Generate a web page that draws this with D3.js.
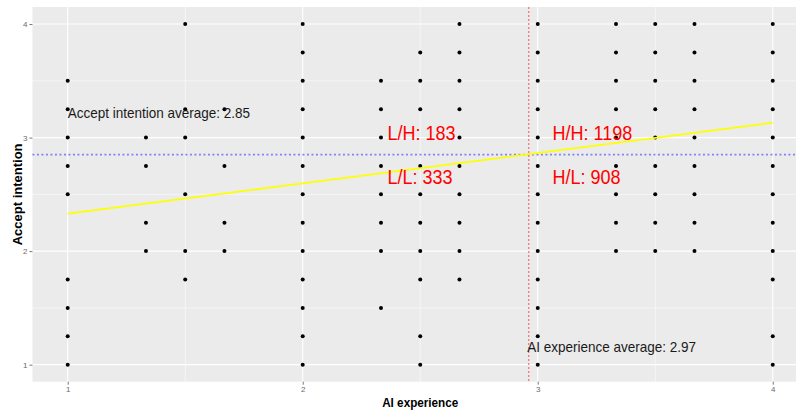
<!DOCTYPE html>
<html>
<head>
<meta charset="utf-8">
<script src="https://cdn.jsdelivr.net/npm/d3@7"></script>
<style>
  html, body { margin: 0; padding: 0; background: #fff; }
  svg { display: block; }
  text { font-family: "Liberation Sans", Arial, sans-serif; }
</style>
</head>
<body>
<svg id="chart" width="796" height="412"></svg>
<script>
// ---------- data ----------
const xLevels = [1, 1.333, 1.5, 1.667, 2, 2.333, 2.5, 2.667, 3, 3.333, 3.5, 3.667, 4];
const yByColumn = [
  [1, 1.25, 1.5, 1.75, 2.5, 2.75, 3, 3.25, 3.5],
  [2, 2.25, 2.75, 3],
  [1.75, 2, 2.5, 3, 3.25, 4],
  [2, 2.25, 2.75, 3.25],
  [1, 1.25, 1.5, 1.75, 2, 2.25, 2.5, 2.75, 3, 3.25, 3.5, 3.75, 4],
  [1.5, 2, 2.25, 2.5, 2.75, 3, 3.25, 3.5],
  [1, 1.25, 1.75, 2, 2.25, 2.5, 2.75, 3.25, 3.5, 3.75],
  [1.75, 2, 2.25, 2.5, 2.75, 3, 3.25, 3.5, 3.75, 4],
  [1, 1.25, 1.5, 1.75, 2, 2.25, 2.5, 2.75, 3, 3.25, 3.5, 3.75, 4],
  [2, 2.25, 2.5, 2.75, 3, 3.25, 3.5, 3.75, 4],
  [2, 2.25, 2.5, 2.75, 3, 3.25, 3.5, 3.75, 4],
  [2, 2.25, 2.5, 2.75, 3, 3.25, 3.5, 3.75, 4],
  [1, 1.25, 1.75, 2, 2.25, 2.5, 2.75, 3, 3.25, 3.5, 3.75, 4]
];
const fitX = [1, 4];
const fitY = [2.33, 3.131];
const xMean = 2.962;
const yMean = 2.85;
const xTicks = [1, 2, 3, 4];
const yTicks = [1, 2, 3, 4];
const minorTicks = [1.5, 2.5, 3.5];
const quadLabels = ["L/H: 183", "L/L: 333", "H/H: 1198", "H/L: 908"];
const quadX = [2.361, 2.361, 3.063, 3.063];
const quadY = [2.983, 2.59, 2.983, 2.59];
const meanLabels = ["Accept intention average: 2.85", "AI experience average: 2.97"];
const meanLabelX = [1, 2.955];
const meanLabelY = [3.175, 1.115];
const xTitle = "AI experience";
const yTitle = "Accept intention";

// ---------- layout ----------
const svg = d3.select("#chart");
const panel = { left: 32.45, right: 808, top: 7, bottom: 381.7 };
const x = d3.scaleLinear().domain([0.85, 4.15]).range([panel.left, panel.right]);
const y = d3.scaleLinear().domain([0.85, 4.15]).range([panel.bottom, panel.top]);
const squeeze = 0.9;

function squeezeText(sel) {
  sel.each(function () {
    const len = this.getComputedTextLength();
    d3.select(this).attr("textLength", len * squeeze).attr("lengthAdjust", "spacingAndGlyphs");
  });
}

svg.append("rect").attr("width", 796).attr("height", 412).attr("fill", "#fff");

// panel background
svg.append("rect")
  .attr("x", panel.left).attr("y", panel.top)
  .attr("width", panel.right - panel.left).attr("height", panel.bottom - panel.top)
  .attr("fill", "#EBEBEB");

const grid = svg.append("g");
// minor grid
grid.selectAll(".mx").data(minorTicks).enter().append("line")
  .attr("x1", d => x(d)).attr("x2", d => x(d))
  .attr("y1", panel.top).attr("y2", panel.bottom)
  .attr("stroke", "#fff").attr("stroke-width", 0.55);
grid.selectAll(".my").data(minorTicks).enter().append("line")
  .attr("y1", d => y(d)).attr("y2", d => y(d))
  .attr("x1", panel.left).attr("x2", panel.right)
  .attr("stroke", "#fff").attr("stroke-width", 0.55);
// major grid
grid.selectAll(".Mx").data(xTicks).enter().append("line")
  .attr("x1", d => x(d)).attr("x2", d => x(d))
  .attr("y1", panel.top).attr("y2", panel.bottom)
  .attr("stroke", "#fff").attr("stroke-width", 1.1);
grid.selectAll(".My").data(yTicks).enter().append("line")
  .attr("y1", d => y(d)).attr("y2", d => y(d))
  .attr("x1", panel.left).attr("x2", panel.right)
  .attr("stroke", "#fff").attr("stroke-width", 1.1);

// axes
const xAxis = d3.axisBottom(x).tickValues(xTicks).tickSize(3).tickPadding(2).tickFormat(d3.format("d"));
const yAxis = d3.axisLeft(y).tickValues(yTicks).tickSize(3).tickPadding(2).tickFormat(d3.format("d"));
const gx = svg.append("g").attr("transform", `translate(0,${panel.bottom})`).call(xAxis);
const gy = svg.append("g").attr("transform", `translate(${panel.left},0)`).call(yAxis);
[gx, gy].forEach(g => {
  g.select(".domain").remove();
  g.selectAll(".tick line").attr("stroke", "#555").attr("stroke-width", 0.8);
  g.selectAll(".tick text").attr("fill", "#6a6a6a").attr("font-size", 8)
    .attr("font-family", "Liberation Sans, Arial, sans-serif");
});

// points
const pts = [];
xLevels.forEach((xv, i) => yByColumn[i].forEach(yv => pts.push([xv, yv])));
svg.append("g").selectAll("circle").data(pts).enter().append("circle")
  .attr("cx", d => x(d[0])).attr("cy", d => y(d[1])).attr("r", 2)
  .attr("fill", "#000");

// mean lines
svg.append("line")
  .attr("x1", x(xMean)).attr("x2", x(xMean))
  .attr("y1", panel.top).attr("y2", panel.bottom)
  .attr("stroke", "#E85A5A").attr("stroke-width", 1).attr("stroke-dasharray", "2,2");
svg.append("line")
  .attr("x1", panel.left).attr("x2", panel.right)
  .attr("y1", y(yMean)).attr("y2", y(yMean))
  .attr("stroke", "#8080FF").attr("stroke-width", 1.6).attr("stroke-dasharray", "2,2.5");

// fit line
const line = d3.line().x(d => x(d[0])).y(d => y(d[1]));
svg.append("path")
  .datum(fitX.map((v, i) => [v, fitY[i]]))
  .attr("d", line).attr("fill", "none")
  .attr("stroke", "#FFFF00").attr("stroke-width", 1.8);

// mean labels
svg.append("g").selectAll("text").data(meanLabels).enter().append("text")
  .attr("x", (d, i) => x(meanLabelX[i])).attr("y", (d, i) => y(meanLabelY[i]))
  .attr("font-size", 15).attr("fill", "#1a1a1a")
  .text(d => d).call(squeezeText);

// quadrant labels
svg.append("g").selectAll("text").data(quadLabels).enter().append("text")
  .attr("x", (d, i) => x(quadX[i])).attr("y", (d, i) => y(quadY[i]))
  .attr("font-size", 20).attr("fill", "#FF0000")
  .text(d => d).call(squeezeText);

// axis titles
svg.append("text")
  .attr("x", (panel.left + panel.right) / 2).attr("y", 406.5)
  .attr("text-anchor", "middle").attr("font-size", 13).attr("font-weight", "bold")
  .attr("fill", "#000").text(xTitle).call(squeezeText);
svg.append("text")
  .attr("transform", `translate(21.5,${(panel.top + panel.bottom) / 2}) rotate(-90)`)
  .attr("text-anchor", "middle").attr("font-size", 13).attr("font-weight", "bold")
  .attr("fill", "#000").text(yTitle);
</script>
</body>
</html>
